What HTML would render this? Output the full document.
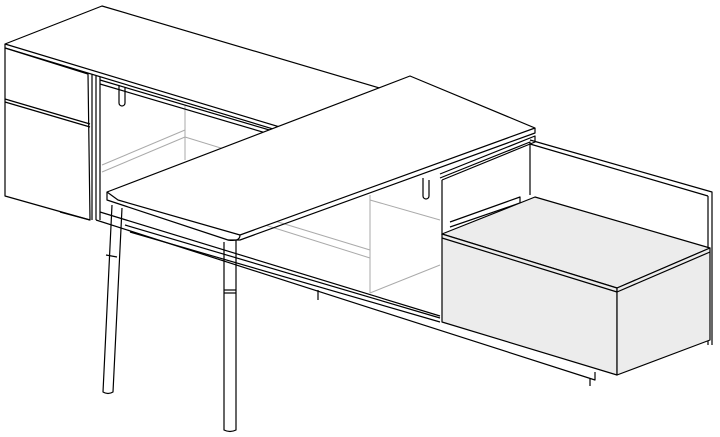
<!DOCTYPE html>
<html><head><style>html,body{margin:0;padding:0;background:#fff}svg{display:block}</style></head>
<body>
<svg width="720" height="437" viewBox="0 0 720 437" xmlns="http://www.w3.org/2000/svg" fill="none" stroke="#000" stroke-width="1.2" stroke-linejoin="round">
<!-- back panel right -->
<polyline points="530,140 712,192 712,345"/>
<line x1="530" y1="144" x2="708" y2="196"/>
<line x1="708" y1="196" x2="708" y2="345"/>
<!-- gray interior lines -->
<g stroke="#aaa" stroke-width="1">
<line x1="185" y1="105" x2="185" y2="160"/>
<line x1="102" y1="165" x2="185" y2="130"/>
<line x1="102" y1="172" x2="185" y2="137"/>
<line x1="185" y1="137" x2="260" y2="160"/>
<line x1="370" y1="195" x2="370" y2="293"/>
<line x1="265" y1="218" x2="370" y2="250"/>
<line x1="265" y1="225" x2="370" y2="258"/>
<line x1="370" y1="293" x2="440" y2="265"/>
<line x1="370" y1="200" x2="440" y2="220"/>
</g>
<!-- back credenza top -->
<polygon points="5,44 102,6 420,100 283,128" fill="#fff"/>
<polyline points="5,44 5,48 283,132"/>
<!-- left pedestal -->
<polygon points="5,48 88,74 90,220 5,196" fill="#fff"/>
<line x1="5" y1="99" x2="90" y2="124"/>
<line x1="5" y1="102" x2="90" y2="127"/>
<line x1="92" y1="74" x2="92" y2="220"/>
<line x1="96" y1="76" x2="96" y2="220"/>
<line x1="100" y1="77" x2="100" y2="220"/>
<line x1="100" y1="80" x2="283" y2="134"/>
<line x1="100" y1="84" x2="283" y2="138"/>
<path d="M119,85 v18 a3,3 0 0 0 6,0 v-16"/>
<line x1="60" y1="212" x2="90" y2="220"/>
<!-- base rail -->
<polyline points="96,220 595,380 595,372"/>
<line x1="130" y1="232" x2="440" y2="322"/>
<line x1="125" y1="225" x2="440" y2="318"/>
<line x1="100" y1="212" x2="440" y2="316"/>
<line x1="318" y1="290" x2="318" y2="300"/>
<!-- upper shelf unit -->
<polyline points="440,178 530,142 530,195"/>
<polyline points="440,174 535,136 535,142 442,180"/>
<line x1="442" y1="180" x2="442" y2="235"/>
<polyline points="450,222 520,197 520,203 450,227"/>
<path d="M423,178 v18 a3,3 0 0 0 6,0 v-16"/>
<!-- desk return -->
<polygon points="107,192 410,76 535,128 240,235 118,200" fill="#fff"/>
<polyline points="107,192 107,200 228,240 240,240 535,133 535,128"/>
<path d="M228,240 q12,2 12,-5"/>
<!-- legs -->
<path d="M112,205 L103,392 q5,3 10,0 L122,208"/>
<line x1="106" y1="255" x2="117" y2="257"/>
<path d="M224,242 L224,430 q6,3 12,0 L236,240"/>
<line x1="224" y1="290" x2="236" y2="290"/>
<line x1="224" y1="293" x2="236" y2="293"/>
<!-- storage box -->
<polygon points="442,234 535,197 710,248 617,288" fill="#ececec"/>
<polygon points="442,234 617,288 617,375 442,322" fill="#ececec"/>
<polygon points="617,288 710,248 710,340 617,375" fill="#ececec"/>
<line x1="442" y1="238" x2="617" y2="292"/>
<line x1="617" y1="292" x2="710" y2="252"/>
<line x1="590" y1="378" x2="590" y2="386"/>
</svg>
</body></html>
